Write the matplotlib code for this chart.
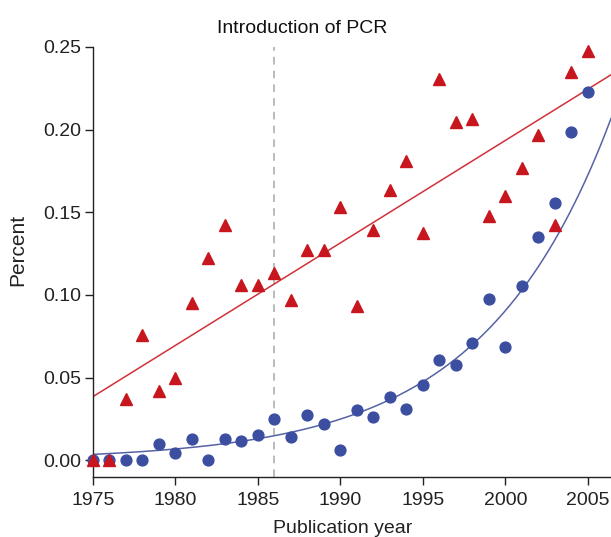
import numpy as np
import matplotlib
matplotlib.use("Agg")
from matplotlib import pyplot as plt

plt.rcParams["font.family"] = ["Liberation Sans", "DejaVu Sans"]

# publication years and share of papers
years = np.arange(1975, 2006)
red_pct = [0.000, 0.000, 0.037, 0.0755, 0.042, 0.0495, 0.095, 0.1226, 0.1425,
           0.1059, 0.1059, 0.1135, 0.0968, 0.1274, 0.1274, 0.1534, 0.0936,
           0.1395, 0.1636, 0.181, 0.1377, 0.2307, 0.2047, 0.2065, 0.1475,
           0.1596, 0.1767, 0.1969, 0.1425, 0.235, 0.2478]
blue_pct = [0.000, 0.000, 0.000, 0.000, 0.0097, 0.0044, 0.0131, 0.000, 0.0127,
            0.0115, 0.0153, 0.0250, 0.0141, 0.0274, 0.0217, 0.0064, 0.0302,
            0.0260, 0.0382, 0.0308, 0.0453, 0.0604, 0.0574, 0.0711, 0.0974,
            0.0687, 0.1053, 0.1349, 0.1556, 0.1983, 0.2226]

# fitted trends as drawn in the reference
lin_intercept, lin_slope = 0.0385, 0.0062       # y = a + b*(year-1975)
exp_scale, exp_rate = 0.0036, 0.129              # y = a*exp(b*(year-1975))

pcr_year = 1986
x_max = 2006.4
fs = 14

fig = plt.figure(figsize=(6.11, 5.37), dpi=100)
ax = fig.add_axes([0.152, 0.112, 1.0 - 0.152, 0.8005])

t = np.linspace(1975, x_max, 300)
ax.plot(t, lin_intercept + lin_slope * (t - 1975), color="#d0313a", lw=1.1, zorder=2)
ax.plot(t, exp_scale * np.exp(exp_rate * (t - 1975)), color="#5563a6", lw=1.1, zorder=2)

ax.plot(years, blue_pct, "o", color="#3b4ea0", ms=7.8, mec="#3b4ea0",
        clip_on=False, zorder=3)
ax.plot(years, red_pct, "^", color="#c8161e", ms=8.3, mec="#c8161e",
        clip_on=False, zorder=4)

ax.plot([pcr_year, pcr_year], [-0.01, 0.25], ls=(0, (5, 4)), color="#a8a8a8",
        lw=1.1, zorder=1)
ax.text(1987.7, 0.2614, "Introduction of PCR", ha="center", va="center",
        fontsize=fs, color="#111111")

ax.set_xlim(1975, x_max)
ax.set_ylim(-0.01, 0.25)
ax.set_xticks([1975, 1980, 1985, 1990, 1995, 2000, 2005])
ax.set_yticks([0.00, 0.05, 0.10, 0.15, 0.20, 0.25])
ax.set_yticklabels(["0.00", "0.05", "0.10", "0.15", "0.20", "0.25"])
for side in ["top", "right"]:
    ax.spines[side].set_visible(False)
for side in ["left", "bottom"]:
    ax.spines[side].set_linewidth(1.0)
    ax.spines[side].set_color("#222222")
ax.spines["left"].set_bounds(-0.01, 0.25)
ax.tick_params(length=6, width=1.0, labelsize=fs, colors="#222222", pad=2.5)
ax.tick_params(axis="x", pad=5)

ax.set_xlabel("Publication year", fontsize=fs, color="#222222")
ax.xaxis.label.set_va("center")
ax.xaxis.set_label_coords(0.483, -0.12)
ax.set_ylabel("Percent", fontsize=15, color="#222222")
ax.yaxis.label.set_va("center")
ax.yaxis.set_label_coords(-0.145, 0.528)

fig.savefig("out.png", dpi=100)
